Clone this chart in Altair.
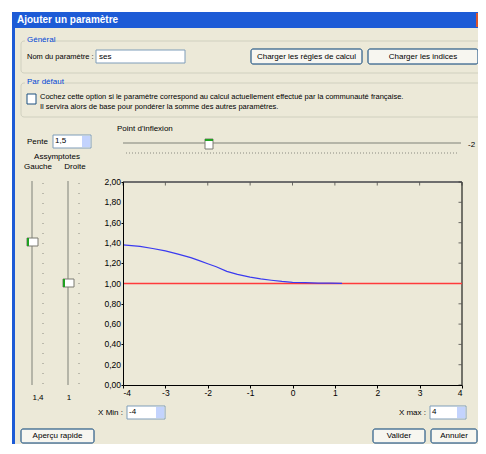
import altair as alt
import pandas as pd

# ---- data ----
curve_x = [-4.0, -3.6, -3.3, -3.0, -2.7, -2.4, -2.2, -2.0, -1.8, -1.55, -1.3, -1.0,
           -0.75, -0.5, -0.25, 0.0, 0.3, 0.6, 0.9, 1.17]
curve_y = [1.38, 1.365, 1.345, 1.322, 1.29, 1.255, 1.225, 1.195, 1.165, 1.12, 1.09, 1.062,
           1.045, 1.032, 1.02, 1.012, 1.008, 1.004, 1.003, 1.002]
ref_x = [-4.0, 4.0]
ref_y = [1.0, 1.0]
x_ticks = [-4, -3, -2, -1, 0, 1, 2, 3, 4]
y_ticks = [0.0, 0.2, 0.4, 0.6, 0.8, 1.0, 1.2, 1.4, 1.6, 1.8, 2.0]
y_tick_labels = ["0,00", "0,20", "0,40", "0,60", "0,80", "1,00", "1,20", "1,40",
                 "1,60", "1,80", "2,00"]

ref = pd.DataFrame({"x": ref_x, "y": ref_y})
curve = pd.DataFrame({"x": curve_x, "y": curve_y})
xt = pd.DataFrame({"v": x_ticks})
yt = pd.DataFrame({"v": y_ticks, "t": y_tick_labels})

# ---- geometry of the plot area on the page ----
OX, OY = 123, 182  # page position of plot origin (top-left)
W, H = 339, 203
FONT = "Liberation Sans"
BEIGE = "#ECE9D8"
one = alt.Data(values=[{}])


def box(x1, y1, x2, y2, fill=None, stroke=None, sw=1, radius=0):
    kw = {}
    if fill is not None:
        kw["fill"] = fill
    else:
        kw["fillOpacity"] = 0
    if stroke is not None:
        kw["stroke"] = stroke
        kw["strokeWidth"] = sw
    if radius:
        kw["cornerRadius"] = radius
    return alt.Chart(one).mark_rect(**kw).encode(
        x=alt.value(x1 - OX), x2=alt.value(x2 - OX),
        y=alt.value(y1 - OY), y2=alt.value(y2 - OY))


def rule(x1, y1, x2, y2, color, sw=1, dash=None):
    kw = {"color": color, "strokeWidth": sw}
    if dash:
        kw["strokeDash"] = dash
    return alt.Chart(one).mark_rule(**kw).encode(
        x=alt.value(x1 - OX), x2=alt.value(x2 - OX),
        y=alt.value(y1 - OY), y2=alt.value(y2 - OY))


def label(x, y, txt, size=8, color="black", align="left", weight="normal"):
    return alt.Chart(one).mark_text(
        text=txt, font=FONT, fontSize=size, color=color, align=align,
        baseline="middle", fontWeight=weight).encode(
        x=alt.value(x - OX), y=alt.value(y - OY))


def button(x1, y1, x2, y2, txt):
    return [box(x1, y1, x2, y2, fill="#F7F6F0", stroke="#003C74", radius=2),
            label((x1 + x2) / 2, (y1 + y2) / 2, txt, align="center")]


deco = []
# window frame
deco.append(box(15, 28, 478, 444, fill=BEIGE))
deco.append(box(12, 12, 478, 28, fill="#1D5BD6"))
deco.append(box(12, 28, 15, 444, fill="#1D5BD6"))
deco.append(box(476, 13, 478, 27, fill="#D8552F"))
deco.append(label(17, 20, "Ajouter un paramètre", size=10, color="white", weight="bold"))
# group Général
deco.append(box(21, 41, 486, 73, stroke="#D0D0BF", radius=3))
deco.append(box(25, 36, 53, 45, fill=BEIGE))
deco.append(label(27, 40, "Général", color="#0046D5"))
deco.append(label(27, 57, "Nom du paramètre :", size=7.5))
deco.append(box(96, 50, 185, 63, fill="white", stroke="#7F9DB9"))
deco.append(label(99, 57, "ses"))
deco += button(251, 49, 362, 64, "Charger les règles de calcul")
deco += button(368, 49, 478, 64, "Charger les indices")
# group Par défaut
deco.append(box(21, 83, 486, 117, stroke="#D0D0BF", radius=3))
deco.append(box(25, 78, 60, 87, fill=BEIGE))
deco.append(label(27, 82, "Par défaut", color="#0046D5"))
deco.append(box(27, 94, 36, 104, fill="white", stroke="#1C5180"))
deco.append(label(40, 97, "Cochez cette option si le paramètre correspond au calcul actuellement effectué par la communauté française.", size=7.5))
deco.append(label(40, 107, "Il servira alors de base pour pondérer la somme des autres paramètres.", size=7.5))
# Pente / inflexion
deco.append(label(27, 142, "Pente"))
deco.append(box(53, 135, 91, 148, fill="white", stroke="#7F9DB9"))
deco.append(box(82, 136, 90, 147, fill="#C3D3FD"))
deco.append(label(55, 141, "1,5"))
deco.append(label(117, 129, "Point d'inflexion"))
deco.append(rule(123, 143, 461, 143, "#B5B5A8", sw=2))
deco.append(rule(126, 153, 459, 153, "#8A8A80", dash=[1, 2]))
deco.append(box(205, 139, 213, 149, fill="white", stroke="#7A7A70"))
deco.append(rule(205, 140, 213, 140, "#21A121", sw=2))
deco.append(label(468, 145, "-2"))
deco.append(label(57, 157, "Assymptotes", align="center"))
deco.append(label(38, 167, "Gauche", align="center"))
deco.append(label(75, 167, "Droite", align="center"))
# vertical sliders
deco.append(rule(32, 181, 32, 385, "#B5B5A8", sw=2))
deco.append(rule(68, 181, 68, 385, "#B5B5A8", sw=2))
deco.append(rule(43, 183, 43, 385, "#8A8A80", dash=[1, 9]))
deco.append(rule(79, 183, 79, 385, "#8A8A80", dash=[1, 9]))
deco.append(box(27, 238, 38, 246, fill="white", stroke="#7A7A70"))
deco.append(rule(28, 238, 28, 246, "#21A121", sw=2))
deco.append(box(63, 279, 74, 287, fill="white", stroke="#7A7A70"))
deco.append(rule(64, 279, 64, 287, "#21A121", sw=2))
deco.append(label(38, 398, "1,4", align="center"))
deco.append(label(69, 398, "1", align="center"))
# X min / max
deco.append(label(123, 413, "X Min :", align="right"))
deco.append(box(127, 406, 165, 419, fill="white", stroke="#7F9DB9"))
deco.append(box(156, 407, 164, 418, fill="#C3D3FD"))
deco.append(label(129, 412, "-4"))
deco.append(label(426, 413, "X max :", align="right"))
deco.append(box(430, 406, 466, 419, fill="white", stroke="#7F9DB9"))
deco.append(box(457, 407, 465, 418, fill="#C3D3FD"))
deco.append(label(432, 412, "4"))
# bottom buttons
deco += button(21, 429, 94, 443, "Aperçu rapide")
deco += button(373, 429, 425, 443, "Valider")
deco += button(431, 429, 477, 443, "Annuler")

xscale = alt.Scale(domain=[-4, 4], nice=False, zero=False)
yscale = alt.Scale(domain=[0, 2], nice=False, zero=False)
xlab = "'' + datum.value"

# frame: top and right borders
frame_top = rule(OX, OY, OX + W, OY, "#6E6E6E", sw=2)
frame_right = rule(OX + W, OY, OX + W, OY + H, "#4A4A44", sw=1.5)

xaxis = alt.Axis(values=x_ticks, title=None, labelExpr=xlab, tickSize=3, zindex=1,
                 labelFontSize=8.5, labelFont=FONT, domainColor="black",
                 tickColor="black", labelColor="black", grid=False, labelPadding=0,
                 labelOverlap=False)
yaxis = alt.Axis(values=y_ticks, title=None, labels=False, tickSize=2, zindex=1,
                 domainColor="black", tickColor="black", grid=False)

red = alt.Chart(ref).mark_line(stroke="#FF3B3B", strokeWidth=1.5).encode(
    x=alt.X("x:Q", scale=xscale, axis=xaxis),
    y=alt.Y("y:Q", scale=yscale, axis=yaxis),
)
blue = alt.Chart(curve).mark_line(stroke="#3A3AF0", strokeWidth=1.2).encode(
    x=alt.X("x:Q", scale=xscale, axis=xaxis),
    y=alt.Y("y:Q", scale=yscale, axis=yaxis),
)

y_labels = alt.Chart(yt).mark_text(align="right", baseline="middle", font=FONT,
                                   fontSize=8.5, color="black").encode(
    y=alt.Y("v:Q", scale=yscale), x=alt.value(-2), text="t:N")
right_ticks = alt.Chart(yt).mark_tick(orient="horizontal", size=3, color="#333",
                                      thickness=1).encode(
    y=alt.Y("v:Q", scale=yscale), x=alt.value(W - 2))
top_ticks = alt.Chart(xt).mark_tick(orient="vertical", size=3, color="#333",
                                    thickness=1).encode(
    x=alt.X("v:Q", scale=xscale), y=alt.value(2))

chart = alt.layer(*deco, frame_top, frame_right, right_ticks, top_ticks, y_labels,
                  red, blue).properties(
    width=W, height=H,
    padding={"left": OX - 8, "top": OY - 8, "right": 478 - OX - W, "bottom": 444 - OY - H},
    autosize=alt.AutoSizeParams(type="none"),
    background="white",
).configure_view(stroke=None)

chart.save("out.html", embed_options={"renderer": "svg", "actions": False})
